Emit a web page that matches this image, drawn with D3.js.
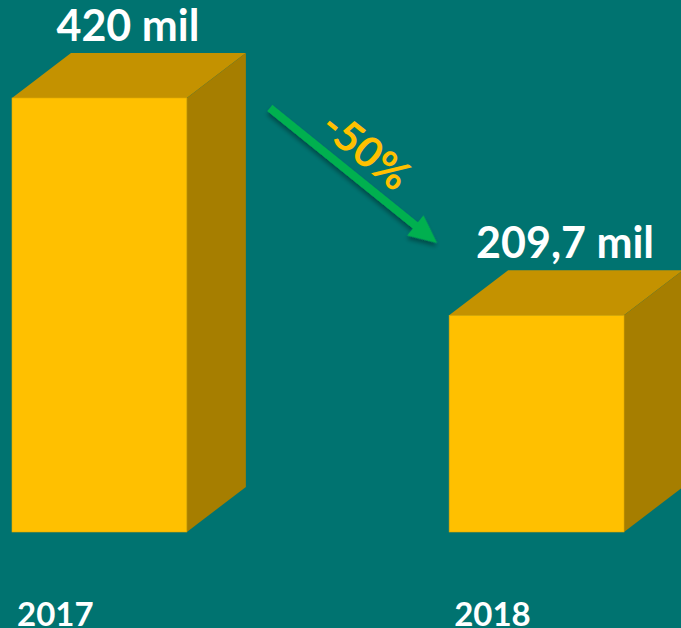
<!DOCTYPE html>
<html>
<head>
<meta charset="utf-8">
<script src="https://cdn.jsdelivr.net/npm/d3@7"></script>
<style>
  html, body { margin: 0; padding: 0; background: #007370; }
  svg { display: block; }
</style>
</head>
<body>
<div class="chart"></div>
<script>
// the chart data
const years = ['2017', '2018'];
const values = [420, 209.7];
const valueLabels = ['420 mil', '209,7 mil'];
const changeLabel = '-50%';

const width = 681;
const height = 628;
const baseY = 532;
// 3d depth of the boxes
const depthX = 59;
const depthY = -45;

const font = 'Lato, "Open Sans", sans-serif';

const svg = d3.select('.chart')
  .append('svg')
  .attr('width', width)
  .attr('height', height);

svg.append('rect')
  .attr('width', width)
  .attr('height', height)
  .attr('fill', '#007370');

const x = d3.scaleBand()
  .domain(years)
  .range([12, 624])
  .paddingInner(0.6)
  .paddingOuter(0);

const y = d3.scaleLinear()
  .domain([0, 420])
  .range([baseY, 98]);

const bw = x.bandwidth();

const rows = years.map((year, i) => ({ year, value: values[i], label: valueLabels[i] }));

const bar = svg.selectAll('g.bar')
  .data(rows)
  .enter()
    .append('g')
    .attr('class', 'bar');

// top face
bar.append('path')
  .attr('fill', '#C49200')
  .attr('d', d => {
    const x0 = x(d.year), y0 = y(d.value);
    return `M${x0},${y0}L${x0 + depthX},${y0 + depthY}L${x0 + bw + depthX},${y0 + depthY}L${x0 + bw},${y0}Z`;
  });

// side face
bar.append('path')
  .attr('fill', '#A67E00')
  .attr('d', d => {
    const x1 = x(d.year) + bw, y0 = y(d.value);
    return `M${x1},${y0}L${x1 + depthX},${y0 + depthY}L${x1 + depthX},${baseY + depthY}L${x1},${baseY}Z`;
  });

// front face
bar.append('rect')
  .attr('fill', '#FFC000')
  .attr('stroke', '#E0A800')
  .attr('stroke-width', 0.6)
  .attr('x', d => x(d.year))
  .attr('y', d => y(d.value))
  .attr('width', bw)
  .attr('height', d => baseY - y(d.value));

// value labels
bar.append('text')
  .attr('x', d => x(d.year) + bw / 2 + depthX / 2 - 1)
  .attr('y', d => y(d.value) - 57)
  .attr('text-anchor', 'middle')
  .attr('fill', '#fff')
  .style('font-family', font)
  .style('font-weight', 700)
  .style('font-size', '43px')
  .text(d => d.label);

// year labels (cut by the bottom edge, like the original)
bar.append('text')
  .attr('x', d => x(d.year) + 5)
  .attr('y', 626)
  .attr('fill', '#fff')
  .style('font-family', font)
  .style('font-weight', 700)
  .style('font-size', '33px')
  .text(d => d.year);

// arrow from first bar to second bar
const defs = svg.append('defs');
const shadow = defs.append('filter')
  .attr('id', 'shadow')
  .attr('x', '-20%').attr('y', '-20%')
  .attr('width', '140%').attr('height', '140%');
shadow.append('feDropShadow')
  .attr('dx', 2).attr('dy', 3)
  .attr('stdDeviation', 2)
  .attr('flood-color', '#000')
  .attr('flood-opacity', 0.35);

const ax0 = x(years[0]) + bw + depthX + 24;
const ay0 = 108;
const ax1 = x(years[1]) - 12;
const ay1 = 243;
const angle = Math.atan2(ay1 - ay0, ax1 - ax0);
const len = Math.hypot(ax1 - ax0, ay1 - ay0);
const headLen = 28;
const headW = 13;
const shaft = 4;

const arrow = svg.append('g')
  .attr('transform', `translate(${ax0},${ay0}) rotate(${angle * 180 / Math.PI})`)
  .attr('filter', 'url(#shadow)');

arrow.append('path')
  .attr('fill', '#00B050')
  .attr('d', `M0,${-shaft}L${len - headLen},${-shaft}L${len - headLen},${-headW}L${len},0L${len - headLen},${headW}L${len - headLen},${shaft}L0,${shaft}Z`);

svg.append('text')
  .attr('transform', `translate(${(ax0 + ax1) / 2 + 10},${(ay0 + ay1) / 2 - 22}) rotate(${angle * 180 / Math.PI})`)
  .attr('text-anchor', 'middle')
  .attr('dominant-baseline', 'middle')
  .attr('fill', '#FFC000')
  .style('font-family', font)
  .style('font-weight', 700)
  .style('font-size', '42px')
  .text(changeLabel);
</script>
</body>
</html>
